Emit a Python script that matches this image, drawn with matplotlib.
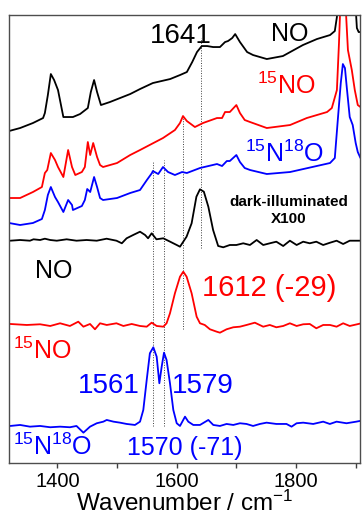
import matplotlib
matplotlib.use("Agg")
import numpy as np
import matplotlib.pyplot as plt
from matplotlib.ticker import MultipleLocator

plt.rcParams["font.family"] = ["Liberation Sans", "DejaVu Sans"]
plt.rcParams["mathtext.fontset"] = "custom"
plt.rcParams["mathtext.rm"] = "Liberation Sans"
plt.rcParams["mathtext.default"] = "regular"

# absorbance spectra (offset, arbitrary units)
no_wn = [1319, 1337.5, 1359, 1376, 1379, 1384, 1389, 1394.5, 1401, 1406, 1410, 1426,
         1438, 1451, 1456, 1461.5, 1466.5, 1473, 1488, 1505, 1522, 1538.5, 1560, 1589,
         1605.5, 1617, 1626, 1634, 1642, 1651, 1661, 1672.5, 1681, 1686, 1693, 1698,
         1706, 1718, 1728, 1751, 1778, 1811.5, 1835, 1857, 1865, 1868.5, 1872, 1898.5,
         1902, 1905, 1910]
no_abs = [332, 335, 340, 345, 350, 368, 389, 383, 373, 358, 346, 346,
          349, 355, 371, 383, 371, 358, 361, 365, 369, 374, 380, 384,
          388, 391, 401, 411, 417, 417, 416, 416, 421, 422, 425, 429,
          421, 411, 408, 404, 407, 418, 424, 428, 432, 446, 470, 470,
          435, 431, 431]

n15o_wn = [1319, 1337.5, 1359, 1374, 1379, 1383, 1389, 1396, 1401, 1410, 1418, 1424.5,
           1430, 1441, 1446, 1451, 1455, 1460, 1466.5, 1471.5, 1476.5, 1500, 1522, 1538.5,
           1577, 1597, 1605.5, 1610.5, 1617, 1630.5, 1644, 1667.5, 1676, 1681, 1689, 1700,
           1706, 1714, 1723, 1751, 1790, 1818, 1852, 1860, 1868.5, 1872, 1875, 1882,
           1887, 1893.5, 1898.5, 1903.5, 1908]
n15o_abs = [265, 265, 271, 276, 290, 293, 310, 303, 296, 286, 313, 296,
            288, 291, 296, 321, 308, 320, 306, 298, 296, 300, 308, 313,
            325, 333, 340, 347, 342, 336, 340, 345, 345, 351, 351, 358,
            350, 343, 341, 335, 338, 345, 351, 355, 373, 420, 470, 470,
            413, 393, 373, 358, 356]

n15o18_wn = [1319, 1337.5, 1359, 1374, 1379, 1384, 1389, 1396, 1401, 1410, 1418, 1424.5,
             1426, 1441, 1446, 1450, 1455, 1461.5, 1466.5, 1471.5, 1476.5, 1500, 1522, 1538.5,
             1550, 1558.5, 1560, 1569, 1577, 1585.5, 1597, 1609, 1617, 1639, 1667.5, 1676,
             1684, 1689, 1700, 1706, 1714, 1723, 1751, 1790, 1857, 1865, 1870, 1875,
             1878.5, 1882, 1885, 1890, 1895, 1900, 1903.5, 1908]
n15o18_abs = [240, 238, 240, 244, 253, 268, 276, 266, 261, 251, 263, 258,
              253, 257, 263, 274, 271, 286, 276, 265, 263, 265, 270, 273,
              283, 290, 292, 289, 296, 291, 288, 291, 290, 295, 299, 297,
              302, 302, 308, 301, 295, 293, 289, 291, 300, 305, 343, 380,
              399, 395, 376, 346, 338, 320, 311, 305]

# dark-illuminated difference spectra (x100, offset)
diff_wn = [1321, 1337.5, 1354, 1360, 1371, 1379, 1388, 1399, 1415.5, 1432, 1449, 1466,
           1482.5, 1499, 1508, 1516, 1527, 1538.5, 1547, 1552, 1558, 1566, 1577.5, 1589,
           1600, 1605.5, 1611, 1616.5, 1625, 1633, 1639, 1645.5, 1653, 1661, 1669.5, 1678,
           1689, 1700, 1711.5, 1722.7, 1734, 1745, 1756, 1767, 1778.5, 1789.7, 1801, 1812,
           1823, 1834, 1845.5, 1857, 1868, 1879, 1890, 1909.7]
diff_no = [222.3, 223, 222.3, 223.7, 223, 224.3, 223, 222.3, 223.7, 222.3, 223, 222.3,
           224.3, 222.3, 219.7, 224.7, 228, 231.3, 228, 224.7, 229.7, 223.7, 224.7, 221.3,
           218, 216.3, 221.3, 226.3, 239.7, 266.3, 273.7, 271.3, 256.3, 233, 217, 215.7,
           218, 218, 219.7, 218, 223, 218, 219.7, 221.3, 217, 222.3, 218, 221.3,
           219.7, 221.3, 218, 220.3, 222.3, 219, 222.3, 222.3]

diff15_wn = [1321, 1348.7, 1371, 1388, 1404.5, 1421, 1435, 1443.6, 1454.7, 1463, 1471.5, 1482.7,
             1499, 1510.6, 1524.5, 1538.5, 1549.7, 1558, 1566.4, 1577.6, 1583, 1588.7, 1597, 1605.5,
             1611, 1616.6, 1625, 1633.4, 1639, 1647, 1655.7, 1667, 1672.5, 1683.6, 1694.8, 1706,
             1717, 1731, 1745, 1756, 1767, 1778.5, 1789.7, 1801, 1812, 1823, 1834, 1845.5,
             1857, 1868, 1879, 1890, 1909.7]
diff15_no = [139, 138, 138.7, 137, 139.7, 137, 141.3, 136.3, 139, 133.7, 139.7, 138,
             139.7, 137, 139, 137, 136.3, 140.3, 137, 136.3, 139.7, 149.7, 169.7, 186.3,
             191.3, 186.3, 169.7, 146.3, 139.7, 138, 133.7, 131.3, 130.3, 133.7, 135.7, 136.3,
             138, 140.3, 136.3, 138, 135.7, 137, 139.7, 137, 138.7, 139, 134.7, 138,
             138, 136.3, 139.7, 137, 139.7]

diff1518_wn = [1321, 1337.5, 1354, 1371, 1388, 1404.5, 1421, 1432, 1443.6, 1454.7, 1466, 1477,
               1482.7, 1494, 1505, 1516, 1530, 1538.5, 1544, 1549.7, 1555, 1560.8, 1566.4, 1570.9,
               1574.8, 1578.7, 1583, 1588.7, 1594.3, 1600, 1605.5, 1613.9, 1619.4, 1627.8, 1639, 1653,
               1661.3, 1672.5, 1683.6, 1694.8, 1706, 1717, 1728, 1739.5, 1750.6, 1767, 1784, 1792.5,
               1801, 1812, 1828.8, 1845.5, 1856.7, 1868, 1884.6, 1901, 1909.7]
diff1518_no = [37, 38, 36.3, 37, 35.7, 36.3, 35.7, 37, 30.3, 36.3, 39.7, 41.3,
               43, 41.3, 40.3, 39, 38, 41.3, 53, 83, 109.7, 115.7, 106.3, 79.7,
               96.3, 110.3, 103, 79.7, 53, 39.7, 37, 46.3, 41.3, 38, 38, 43,
               38, 37, 39, 38, 39.7, 39, 37, 39, 40.3, 39, 39, 36.3,
               39.7, 40.3, 39, 41.3, 39, 41.3, 39.7, 41.3, 42.3]

# marked band positions and the vertical span of each dotted guide
band_pos = [1641, 1611, 1579, 1561]
band_lo = [215, 134, 37, 37]
band_hi = [425, 348, 303, 301]

fig = plt.figure(figsize=(3.63, 5.19), dpi=100)
ax = fig.add_axes([0.025, 0.108, 0.968, 0.863])

for x, lo, hi in zip(band_pos, band_lo, band_hi):
    ax.plot([x, x], [lo, hi], color="0.25", lw=0.7, ls=(0, (1, 1.6)), zorder=1)

lw = 1.3
style = dict(lw=lw, solid_joinstyle="round", solid_capstyle="round")
ax.plot(no_wn, no_abs, color="black", **style)
ax.plot(n15o_wn, n15o_abs, color="#ff0000", **style)
ax.plot(n15o18_wn, n15o18_abs, color="#0000ff", **style)
ax.plot(diff_wn, diff_no, color="black", **style)
ax.plot(diff15_wn, diff15_no, color="#ff0000", **style)
ax.plot(diff1518_wn, diff1518_no, color="#0000ff", **style)

ax.set_xlim(1319, 1908)
ax.set_ylim(0, 448)
ax.set_yticks([])
ax.xaxis.set_major_locator(MultipleLocator(200))
ax.xaxis.set_minor_locator(MultipleLocator(100))
ax.tick_params(axis="x", which="both", direction="out", length=3.5, width=1.0,
               color="0.25", labelsize=14.5, pad=3)
for s in ax.spines.values():
    s.set_color("0.3")
    s.set_linewidth(1.0)
ax.set_xlabel("Wavenumber / cm$^{-1}$", fontsize=17.5, labelpad=0)

# labels
ax.text(1607, 420, "1641", fontsize=20, ha="center", va="baseline", color="black")
ax.text(1789, 422, "NO", fontsize=18, ha="center", va="baseline", color="black")
ax.text(1734, 369, "$^{15}$NO", fontsize=18, ha="left", va="baseline", color="#ff0000")
ax.text(1714, 301, "$^{15}$N$^{18}$O", fontsize=18, ha="left", va="baseline", color="#0000ff")
ax.text(1788, 268, "dark-illuminated\nX100", fontsize=11, fontweight="bold",
        ha="center", va="top", linespacing=1.3, color="black")
ax.text(1363, 185, "NO", fontsize=18, ha="left", va="baseline", color="black")
ax.text(1642, 167, "1612 (-29)", fontsize=21, ha="left", va="baseline", color="#ff0000")
ax.text(1326, 104, "$^{15}$NO", fontsize=18, ha="left", va="baseline", color="#ff0000")
ax.text(1538.6, 70, "1561", fontsize=20, ha="right", va="baseline", color="#0000ff")
ax.text(1592, 70, "1579", fontsize=20, ha="left", va="baseline", color="#0000ff")
ax.text(1326, 8, "$^{15}$N$^{18}$O", fontsize=18, ha="left", va="baseline", color="#0000ff")
ax.text(1614, 8, "1570 (-71)", fontsize=18, ha="center", va="baseline", color="#0000ff")

fig.savefig("out.png", dpi=100)
